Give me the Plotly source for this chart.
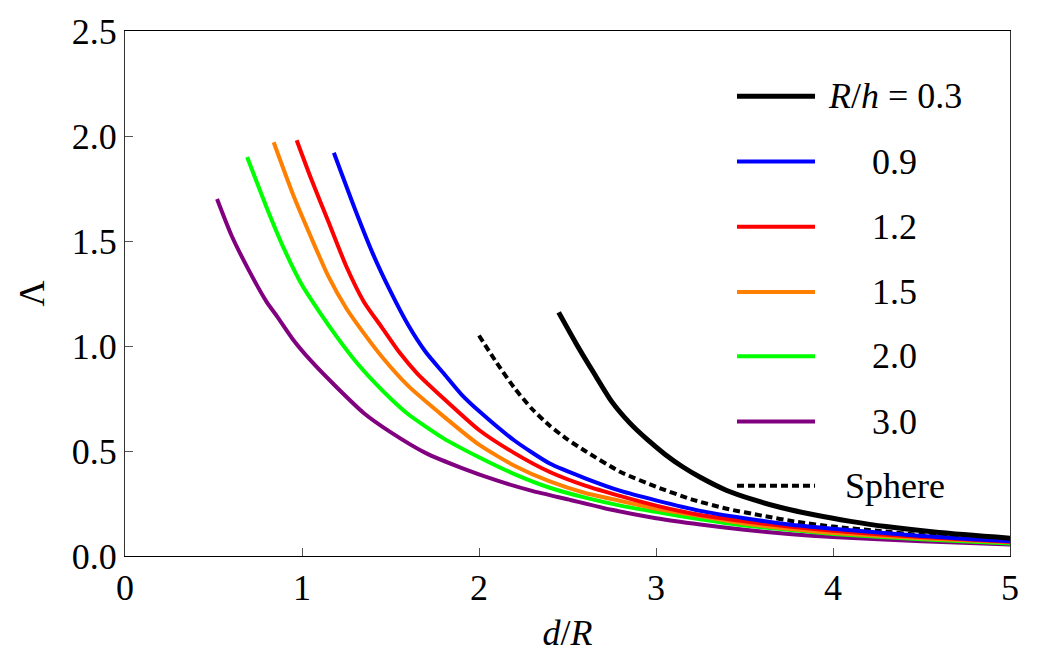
import plotly.graph_objects as go

# ---- data ----
x_03 = [2.45, 2.55, 2.65, 2.75, 2.85, 2.95, 3.05, 3.15, 3.25, 3.4, 3.55, 3.7, 3.9, 4.1, 4.3, 4.6, 5.0]
y_03 = [1.16, 1.01, 0.87, 0.735, 0.635, 0.555, 0.485, 0.425, 0.375, 0.312, 0.268, 0.232, 0.195, 0.165, 0.14, 0.112, 0.085]

x_09 = [1.18, 1.3, 1.4, 1.5, 1.6, 1.7, 1.8, 1.9, 2.0, 2.2, 2.4, 2.6, 2.8, 3.0, 3.25, 3.5, 3.75, 4.0, 4.5, 5.0]
y_09 = [1.92, 1.65, 1.44, 1.26, 1.10, 0.97, 0.87, 0.77, 0.69, 0.55, 0.44, 0.37, 0.31, 0.265, 0.215, 0.18, 0.15, 0.13, 0.095, 0.07]

x_12 = [0.97, 1.05, 1.15, 1.25, 1.35, 1.45, 1.55, 1.65, 1.8, 2.0, 2.2, 2.4, 2.6, 2.8, 3.0, 3.25, 3.5, 3.75, 4.0, 4.5, 5.0]
y_12 = [1.98, 1.80, 1.59, 1.38, 1.21, 1.09, 0.97, 0.87, 0.75, 0.60, 0.49, 0.40, 0.335, 0.285, 0.24, 0.195, 0.165, 0.14, 0.12, 0.09, 0.068]

x_15 = [0.84, 0.95, 1.05, 1.15, 1.25, 1.35, 1.45, 1.6, 1.8, 2.0, 2.2, 2.4, 2.6, 2.8, 3.0, 3.25, 3.5, 3.75, 4.0, 4.5, 5.0]
y_15 = [1.97, 1.72, 1.52, 1.33, 1.18, 1.06, 0.95, 0.81, 0.665, 0.53, 0.43, 0.355, 0.30, 0.262, 0.225, 0.19, 0.155, 0.13, 0.11, 0.085, 0.065]

x_20 = [0.69, 0.8, 0.9, 1.0, 1.1, 1.2, 1.3, 1.4, 1.5, 1.6, 1.8, 2.0, 2.2, 2.4, 2.6, 2.8, 3.0, 3.25, 3.5, 3.75, 4.0, 4.5, 5.0]
y_20 = [1.90, 1.66, 1.46, 1.29, 1.16, 1.04, 0.93, 0.835, 0.75, 0.675, 0.56, 0.47, 0.39, 0.325, 0.278, 0.24, 0.21, 0.175, 0.145, 0.125, 0.105, 0.08, 0.06]

x_30 = [0.52, 0.6, 0.7, 0.8, 0.86, 0.95, 1.05, 1.2, 1.35, 1.5, 1.7, 1.9, 2.1, 2.3, 2.5, 2.75, 3.0, 3.25, 3.5, 3.75, 4.0, 4.5, 5.0]
y_30 = [1.70, 1.53, 1.36, 1.21, 1.14, 1.03, 0.93, 0.80, 0.68, 0.59, 0.49, 0.42, 0.36, 0.31, 0.27, 0.22, 0.18, 0.15, 0.125, 0.105, 0.09, 0.07, 0.055]

x_sph = [2.0, 2.1, 2.2, 2.3, 2.4, 2.5, 2.6, 2.8, 3.0, 3.2, 3.4, 3.6, 3.8, 4.0, 4.25, 4.5, 4.75, 5.0]
y_sph = [1.05, 0.92, 0.80, 0.70, 0.62, 0.555, 0.50, 0.40, 0.33, 0.27, 0.225, 0.192, 0.162, 0.14, 0.12, 0.10, 0.09, 0.078]

labels = ["<i>R</i>/<i>h</i> = 0.3", "0.9", "1.2", "1.5", "2.0", "3.0", "Sphere"]
x_ticks = [0, 1, 2, 3, 4, 5]
y_ticks = [0.0, 0.5, 1.0, 1.5, 2.0, 2.5]
y_tick_text = ["0.0", "0.5", "1.0", "1.5", "2.0", "2.5"]

series = [
    (x_03, y_03, "#000000", "solid", 5),
    (x_09, y_09, "#0000ff", "solid", 4),
    (x_12, y_12, "#ff0000", "solid", 4),
    (x_15, y_15, "#ff8000", "solid", 4),
    (x_20, y_20, "#00ff00", "solid", 4),
    (x_30, y_30, "#800080", "solid", 4),
    (x_sph, y_sph, "#000000", "7px,4px", 4),
]

FONT = "Liberation Serif, Times New Roman, serif"
fig = go.Figure()
order = [6, 5, 4, 3, 2, 1, 0]
for i in order:
    xs, ys, c, d, w = series[i]
    fig.add_trace(go.Scatter(x=xs, y=ys, mode="lines", name=labels[i],
                             line=dict(color=c, width=w, dash=d, shape="spline", smoothing=0.6),
                             showlegend=False))

# manual legend (paper coordinates)
row_y = [0.8757, 0.7514, 0.6271, 0.5028, 0.3804, 0.2561, 0.1337]
for i, (xs, ys, c, d, w) in enumerate(series):
    fig.add_shape(type="line", xref="paper", yref="paper", x0=0.6915, x1=0.7797,
                  y0=row_y[i], y1=row_y[i], line=dict(color=c, width=w, dash=d))
    fig.add_annotation(xref="paper", yref="paper", x=0.870, y=row_y[i], text=labels[i],
                       showarrow=False, xanchor="center", yanchor="middle",
                       font=dict(family=FONT, size=36, color="black"))

fig.update_layout(
    width=1042, height=657,
    margin=dict(l=125, r=32, t=31, b=95),
    paper_bgcolor="white", plot_bgcolor="white",
    font=dict(family=FONT, size=36, color="black"),
    showlegend=False,
)
fig.update_xaxes(range=[0, 5], tickvals=x_ticks, ticks="inside", ticklen=8, tickcolor="#555",
                 showline=True, linecolor="black", linewidth=1, mirror=True, showgrid=False,
                 zeroline=False, tickfont=dict(family=FONT, size=36),
                 title=dict(text="<i>d</i>/<i>R</i>", standoff=12, font=dict(family=FONT, size=36)))
fig.update_yaxes(range=[0, 2.5], tickvals=y_ticks, ticktext=y_tick_text, ticks="inside", ticklen=8,
                 tickcolor="#555", showline=True, linecolor="#333", linewidth=1, mirror=True,
                 showgrid=False, zeroline=False, tickfont=dict(family=FONT, size=36),
                 title=dict(text="Λ", standoff=16, font=dict(family=FONT, size=36)))

fig.write_html("out.html")
